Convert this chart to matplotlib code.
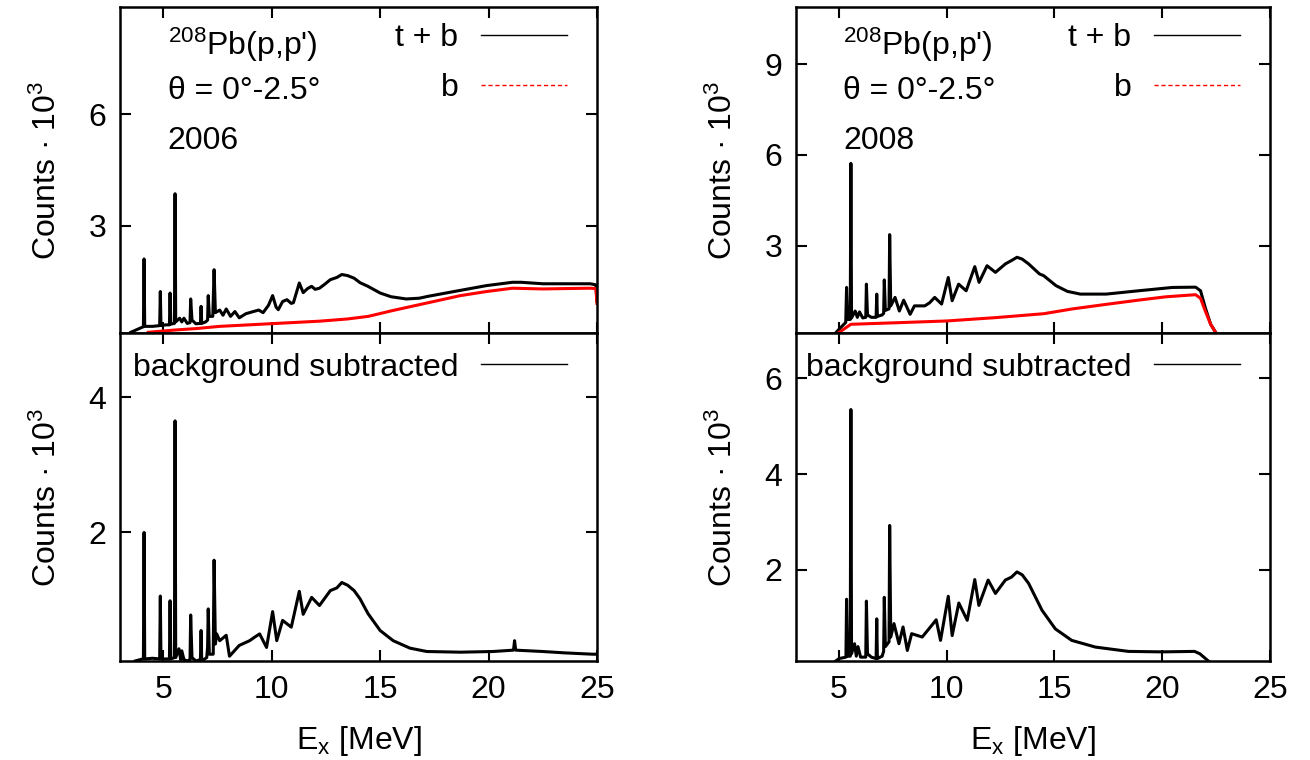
import matplotlib
matplotlib.use('Agg')
from matplotlib import pyplot as plt
from matplotlib.lines import Line2D

plt.rcParams['font.family'] = ['Liberation Sans', 'DejaVu Sans']
plt.rcParams['mathtext.fontset'] = 'custom'
plt.rcParams['mathtext.rm'] = 'Liberation Sans'
plt.rcParams['mathtext.it'] = 'Liberation Sans:italic'
plt.rcParams['mathtext.default'] = 'regular'

# 2006 run, total (t + b), counts / 1000
x06_tb = [3.5, 4.0, 4.08, 4.11, 4.14, 4.5, 4.83, 4.86, 4.89, 5.1, 5.28, 5.31, 5.34,
          5.51, 5.54, 5.57, 5.75, 5.85, 5.95, 6.1, 6.23, 6.26, 6.32, 6.5, 6.71, 6.74,
          6.77, 6.95, 7.04, 7.07, 7.12, 7.28, 7.34, 7.40, 7.6, 7.75, 7.9, 8.1, 8.3, 8.5,
          8.8, 9.15, 9.4, 9.6, 9.85, 10.04, 10.2, 10.3, 10.5, 10.7, 10.9, 11.0, 11.27,
          11.45, 11.65, 11.84, 12.0, 12.2, 12.45, 12.7, 13.0, 13.23, 13.5, 13.8, 14.07,
          14.44, 15.0, 15.5, 16.2, 16.8, 17.2, 18.4, 19.9, 21.1, 21.5, 22.5, 23.5, 24.7,
          24.95, 25.0]
y06_tb = [0.12, 0.25, 0.27, 2.10, 0.28, 0.28, 0.30, 1.22, 0.30, 0.32, 0.32, 1.18, 0.34,
          0.36, 3.86, 0.40, 0.50, 0.40, 0.50, 0.36, 0.38, 1.02, 0.45, 0.35, 0.36, 0.82,
          0.36, 0.40, 0.45, 1.11, 0.55, 0.55, 1.81, 0.65, 0.72, 0.58, 0.75, 0.55, 0.68, 0.51,
          0.62, 0.68, 0.72, 0.65, 0.85, 1.11, 0.80, 0.73, 0.95, 1.00, 0.90, 0.92, 1.45,
          1.19, 1.30, 1.36, 1.28, 1.31, 1.42, 1.54, 1.60, 1.68, 1.65, 1.58, 1.46,
          1.36, 1.18, 1.08, 1.02, 1.04, 1.09, 1.22, 1.38, 1.47, 1.47, 1.43, 1.43, 1.43,
          1.40, 0.95]

# 2006 run, background (b)
x06_b = [4.3, 5.5, 6.5, 7.6, 9.9, 12.2, 13.5, 14.45, 15.6, 17.15, 18.7, 19.9, 21.1,
         22.5, 23.5, 24.7, 24.95, 25.0]
y06_b = [0.12, 0.18, 0.22, 0.28, 0.35, 0.42, 0.48, 0.55, 0.71, 0.91, 1.11, 1.22, 1.31,
         1.29, 1.30, 1.31, 1.30, 0.90]

# 2006 run, background subtracted
x06_s = [3.7, 4.05, 4.08, 4.11, 4.14, 4.5, 4.83, 4.86, 4.89, 5.28, 5.31, 5.34, 5.51,
         5.54, 5.57, 5.72, 5.8, 5.85, 5.95, 6.1, 6.23, 6.26, 6.32, 6.5, 6.71, 6.74, 6.77,
         7.0, 7.04, 7.07, 7.12, 7.3, 7.34, 7.40, 7.46, 7.6, 7.9, 8.05, 8.5, 8.98, 9.2,
         9.44, 9.76, 10.04, 10.23, 10.5, 10.9, 11.27, 11.45, 11.84, 12.2, 12.7, 13.0,
         13.23, 13.5, 13.8, 14.07, 14.44, 15.0, 15.6, 16.37, 17.15, 18.7, 20.2, 21.15,
         21.2, 21.25, 22.5, 23.5, 24.8, 25.0]
y06_s = [0.10, 0.13, 0.13, 2.00, 0.13, 0.14, 0.13, 1.06, 0.13, 0.13, 0.99, 0.13, 0.15,
         3.65, 0.15, 0.28, 0.12, 0.25, 0.12, 0.10, 0.12, 0.78, 0.15, 0.10, 0.12, 0.55, 0.10,
         0.15, 0.30, 0.87, 0.20, 0.20, 1.59, 0.35, 0.50, 0.40, 0.48, 0.17, 0.33, 0.40, 0.45,
         0.50, 0.30, 0.83, 0.40, 0.70, 0.60, 1.13, 0.79, 1.04, 0.92, 1.14, 1.18,
         1.26, 1.22, 1.14, 1.02, 0.80, 0.55, 0.40, 0.29, 0.24, 0.23, 0.24, 0.26,
         0.40, 0.26, 0.24, 0.22, 0.20, 0.20]

# 2008 run, total (t + b)
x08_tb = [4.85, 5.1, 5.31, 5.35, 5.4, 5.52, 5.55, 5.58, 5.75, 5.85, 5.95, 6.1, 6.24,
          6.27, 6.32, 6.5, 6.72, 6.75, 6.78, 7.0, 7.07, 7.1, 7.15, 7.32, 7.35, 7.4, 7.6,
          7.8, 8.0, 8.3, 8.5, 8.98, 9.2, 9.44, 9.76, 10.07, 10.25, 10.55, 10.9, 11.3,
          11.5, 11.87, 12.26, 12.72, 13.0, 13.26, 13.5, 13.8, 14.3, 14.5, 15.07, 15.6,
          16.2, 17.4, 18.9, 20.47, 21.55, 21.78, 22.0, 22.25, 22.5]
y08_tb = [0.11, 0.30, 0.45, 1.61, 0.55, 0.55, 5.72, 0.60, 0.83, 0.62, 0.80, 0.60, 0.62,
          1.72, 0.70, 0.62, 0.62, 1.39, 0.65, 0.70, 0.75, 1.86, 0.85, 0.90, 3.36, 1.00, 1.28,
          0.83, 1.19, 0.72, 1.00, 1.00, 1.10, 1.28, 1.06, 1.94, 1.17, 1.72, 1.50, 2.30,
          1.78, 2.33, 2.11, 2.39, 2.50, 2.61, 2.55, 2.39, 2.06, 2.00, 1.67, 1.48,
          1.39, 1.39, 1.50, 1.61, 1.62, 1.50, 0.94, 0.39, 0.10]

# 2008 run, background (b)
x08_b = [5.0, 5.55, 7.63, 10.0, 12.26, 14.5, 15.84, 17.4, 18.9, 20.16, 21.55, 21.78,
         22.0, 22.25, 22.5]
y08_b = [0.12, 0.39, 0.44, 0.50, 0.61, 0.74, 0.90, 1.05, 1.19, 1.30, 1.37, 1.25,
         0.83, 0.39, 0.10]

# 2008 run, background subtracted
x08_s = [4.85, 5.0, 5.32, 5.35, 5.4, 5.52, 5.55, 5.58, 5.72, 5.8, 5.88, 6.0, 6.24, 6.27,
         6.32, 6.5, 6.72, 6.75, 6.78, 7.0, 7.07, 7.1, 7.15, 7.32, 7.35, 7.4, 7.55, 7.78,
         7.97, 8.17, 8.37, 8.86, 9.17, 9.51, 9.71, 10.07, 10.25, 10.56, 10.95, 11.3,
         11.49, 11.92, 12.26, 12.72, 13.0, 13.26, 13.5, 13.8, 14.42, 15.04, 15.8, 16.9,
         18.43, 19.98, 21.5, 21.75, 22.14]
y08_s = [0.10, 0.15, 0.18, 1.39, 0.20, 0.20, 5.35, 0.25, 0.46, 0.20, 0.40, 0.18, 0.18, 1.35,
         0.25, 0.18, 0.15, 0.98, 0.15, 0.20, 0.30, 1.43, 0.40, 0.50, 2.93, 0.60, 0.88, 0.46,
         0.81, 0.32, 0.67, 0.60, 0.77, 0.96, 0.53, 1.45, 0.63, 1.31, 0.95, 1.80,
         1.26, 1.79, 1.51, 1.79, 1.85, 1.96, 1.90, 1.72, 1.16, 0.77, 0.53, 0.39,
         0.30, 0.29, 0.30, 0.25, 0.10]

years = ['2006', '2008']
top_ylim = [(0.1, 8.9), (0.1, 10.9)]
top_yticks = [[3, 6], [3, 6, 9]]
bot_ylim = [(0.1, 4.95), (0.1, 6.95)]
bot_yticks = [[2, 4], [2, 4, 6]]
xticks = [5, 10, 15, 20, 25]

fig = plt.figure(figsize=(13.1, 7.6), dpi=100)
FS = 23

lefts = [0.0916, 0.6076]
widths = [0.3641, 0.3618]

data = [(x06_tb, y06_tb, x06_b, y06_b, x06_s, y06_s),
        (x08_tb, y08_tb, x08_b, y08_b, x08_s, y08_s)]


def style(ax, ylim, yticks, show_x):
    ax.set_xlim(3, 25)
    ax.set_ylim(*ylim)
    ax.set_xticks(xticks)
    ax.set_yticks(yticks)
    ax.tick_params(direction='in', length=8, width=1.5, top=True, right=True,
                   labelsize=FS, pad=10, labelbottom=show_x)
    for s in ax.spines.values():
        s.set_linewidth(1.8)


for i in range(2):
    xtb, ytb, xb, yb, xs, ys = data[i]
    ax1 = fig.add_axes([lefts[i], 0.5618, widths[i], 0.4289])
    ax2 = fig.add_axes([lefts[i], 0.1303, widths[i], 0.4316])

    ax1.plot(xtb, ytb, color='black', lw=2.2)
    ax1.plot(xb, yb, color='red', lw=2.2)
    style(ax1, top_ylim[i], top_yticks[i], False)
    h = [Line2D([], [], color='black', lw=1),
         Line2D([], [], color='red', lw=1, ls=(0, (3, 2)))]
    ax1.legend(h, ['t + b', 'b'], loc='upper right', bbox_to_anchor=(0.937, 0.95),
               frameon=False, markerfirst=False, fontsize=FS, handlelength=2.7,
               handletextpad=0.7, labelspacing=0.62, borderpad=0, borderaxespad=0)
    ax1.text(0.10, 0.853, "$^{208}$Pb(p,p')", transform=ax1.transAxes, fontsize=FS,
             va='baseline')
    ax1.text(0.10, 0.718, 'θ = 0°-2.5°', transform=ax1.transAxes, fontsize=FS,
             va='baseline')
    ax1.text(0.10, 0.564, years[i], transform=ax1.transAxes, fontsize=FS,
             va='baseline')
    ax1.set_ylabel('Counts · 10$^3$', fontsize=FS, labelpad=18)

    ax2.plot(xs, ys, color='black', lw=2.2)
    style(ax2, bot_ylim[i], bot_yticks[i], True)
    ax2.legend([Line2D([], [], color='black', lw=1)], ['background subtracted'],
               loc='upper right', bbox_to_anchor=(0.937, 0.94), frameon=False,
               markerfirst=False, fontsize=FS, handlelength=2.7, handletextpad=0.7,
               borderpad=0, borderaxespad=0)
    ax2.set_ylabel('Counts · 10$^3$', fontsize=FS, labelpad=18)
    ax2.set_xlabel('E$_x$ [MeV]', fontsize=FS, labelpad=14)

fig.savefig('out.png', dpi=100)
